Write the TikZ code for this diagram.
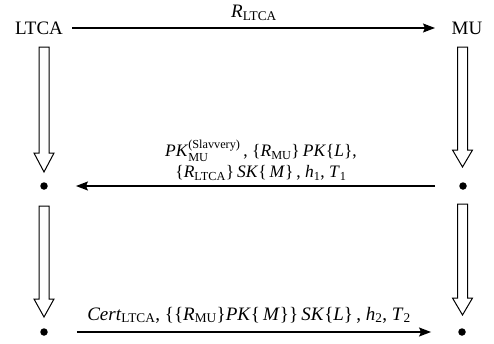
\documentclass[tikz,border=0pt]{standalone}
\usepackage{amsmath}
\usepackage{fontspec}
\setmainfont{Liberation Serif}
\usetikzlibrary{arrows.meta}
% subscripts and superscripts set in the text face
\newcommand\lsb[1]{\ensuremath{_{\text{#1}}}}
\newcommand\lsbp[2]{\ensuremath{^{\text{#2}}_{\text{#1}}}}
% hollow downward block arrow: centre x, top, head base, tip
\newcommand\hollowarrow[4]{%
  \draw[hollow] (#1-5,#2) -- (#1+5,#2) -- (#1+5,#3) -- (#1+10,#3)
    -- (#1,#4) -- (#1-10,#3) -- (#1-5,#3) -- cycle;}
\begin{document}
\begin{tikzpicture}[x=1pt,y=-1pt,
  party/.style={font=\fontsize{19}{21}\selectfont, inner sep=0pt},
  lbl/.style={font=\fontsize{19}{22}\selectfont, inner sep=0pt, align=center},
  msg/.style={line width=1.3pt, -{Stealth[length=12pt,width=9pt,inset=2pt]}},
  hollow/.style={line width=1pt, draw=black, fill=white, line join=miter},
  dot/.style={circle, fill=black, inner sep=0pt, minimum size=7.5pt}]
\useasboundingbox (0,0) rectangle (494,343);

% the two parties
\node[party] (ltca) at (39,28) {LTCA};
\node[party] (mu) at (467,28) {MU};

% time-line markers
\node[dot] (d1l) at (44,186) {};
\node[dot] (d1r) at (463,186) {};
\node[dot] (d2l) at (44,332) {};
\node[dot] (d2r) at (462,332) {};

% progress arrows down each column
\hollowarrow{44}{47}{153}{172}
\hollowarrow{462.5}{47}{150}{167}
\hollowarrow{44}{206}{299}{317}
\hollowarrow{462.5}{204}{298}{315}

% messages
\draw[msg] (ltca.east) ++(9,0) coordinate (m1s) -- (m1s -| 435,0);
\draw[msg, shorten <=24pt, shorten >=28pt] (d1r) -- (d1l);
\draw[msg, shorten <=29pt, shorten >=27pt] (d2l) -- (d2r);

\node[lbl] (l1) at (254,13) {\textit{R}\lsb{LTCA}};
\node[lbl, font=\fontsize{17.5}{21}\selectfont] (l2) at (261,160) {\textit{PK}\lsbp{MU}{(Slavvery)}\,, \{\textit{R}\lsb{MU}\}\,\textit{PK}\{\textit{L}\},\\
  \{\textit{R}\lsb{LTCA}\}\,\textit{SK}\{\,\textit{M}\}\,, \textit{h}\lsb{1}, \textit{T}\lsb{1}};
\node[lbl] (l3) at (249,315) {\textit{Cert}\lsb{LTCA}, \{\{\textit{R}\lsb{MU}\}\textit{PK}\{\,\textit{M}\}\}\,\textit{SK}\{\textit{L}\}\,, \textit{h}\lsb{2}, \textit{T}\lsb{2}};
\end{tikzpicture}
\end{document}
